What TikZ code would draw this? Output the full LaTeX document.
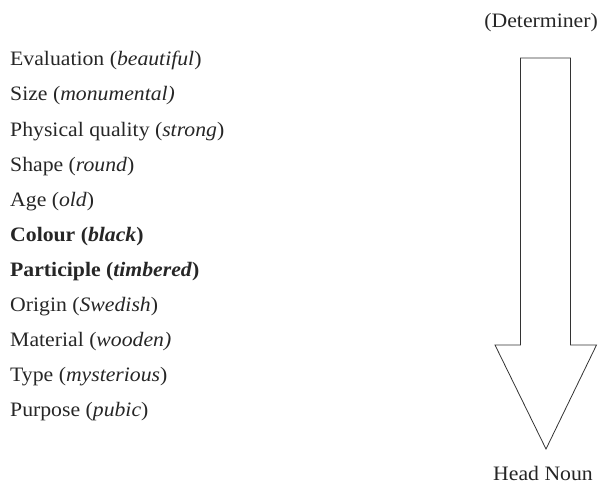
\documentclass[tikz,border=0pt]{standalone}
\usepackage{fontspec}
\setmainfont{Liberation Serif}[FakeStretch=1.06]
\begin{document}
\begin{tikzpicture}[x=1pt,y=1pt,
  lbl/.style={anchor=base west,inner sep=0pt,font=\fontsize{20.5}{24}\selectfont,text=black!85},
  endlbl/.style={inner sep=0pt,font=\fontsize{20.5}{24}\selectfont,text=black!85},
  bigarrow/.style={draw=black!80,line width=0.8pt,line join=miter}]
\useasboundingbox (0,0) rectangle (599,483);
\node[lbl] (e1) at (10,417) {Evaluation (\textit{beautiful})};
\node[lbl] (e2) at (10,382) {Size (\textit{monumental)}};
\node[lbl] (e3) at (10,347) {Physical quality (\textit{strong})};
\node[lbl] (e4) at (10,312) {Shape (\textit{round})};
\node[lbl] (e5) at (10,277) {Age (\textit{old})};
\node[lbl] (e6) at (10,242) {\textbf{Colour (\textit{black})}};
\node[lbl] (e7) at (10,207) {\textbf{Participle (\textit{timbered})}};
\node[lbl] (e8) at (10,172) {Origin (\textit{Swedish})};
\node[lbl] (e9) at (10,137) {Material (\textit{wooden)}};
\node[lbl] (e10) at (10,102) {Type (\textit{mysterious})};
\node[lbl] (e11) at (10,67) {Purpose (\textit{pubic})};
\node[endlbl,anchor=base east] (det) at (598,455) {(Determiner)};
\node[endlbl,anchor=base] (head) at (543,3) {Head Noun};
\draw[bigarrow] (520.5,425) -- (570.5,425) -- (570.5,138) -- (596.5,138) -- (546,34) -- (495,138) -- (520.5,138) -- cycle;
\end{tikzpicture}
\end{document}
